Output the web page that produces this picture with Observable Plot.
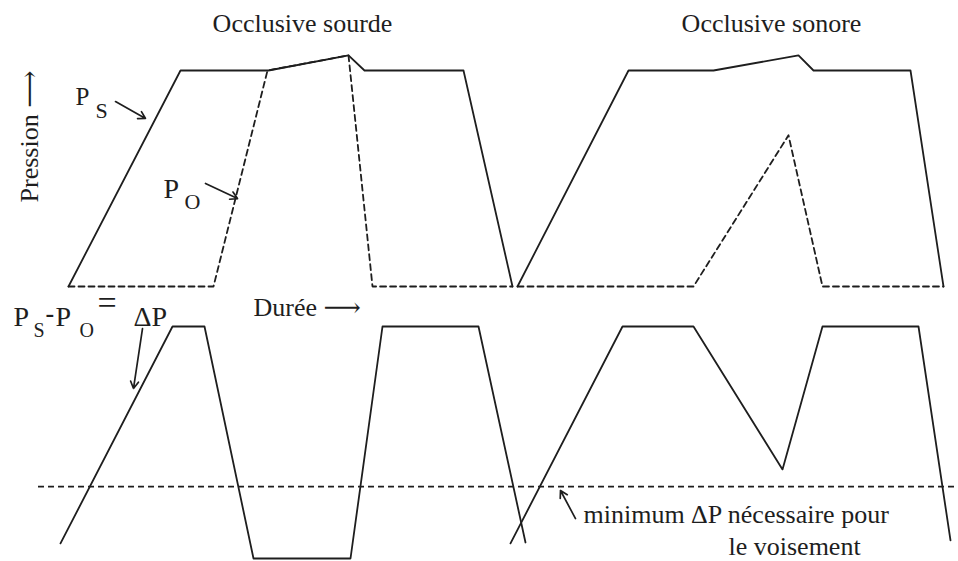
<!DOCTYPE html>
<html><head><meta charset="utf-8">
<script src="https://cdn.jsdelivr.net/npm/d3@7"></script>
<script src="https://cdn.jsdelivr.net/npm/@observablehq/plot@0.6"></script>
<style>
html,body{margin:0;padding:0;background:#fff;}
#chart svg{display:block;overflow:visible;}
</style></head><body><div id="chart"></div>
<script>
// ---- Data: time (durée units) and normalised pressure ----
// Top panel: subglottic pressure Ps (solid)
const psTime    = [68, 180, 268, 348, 364, 463, 512, 517, 628, 713, 798, 813, 910, 943];
const psValue   = [0, 1, 1, 1.07, 1, 1, 0, 0, 1, 1, 1.07, 1, 1, 0];
const psSegment = ["sourde","sourde","sourde","sourde","sourde","sourde","sourde","sonore","sonore","sonore","sonore","sonore","sonore","sonore"];
// Top panel: oral pressure Po (dashed)
const poTime    = [68, 213, 267, 348, 372, 512, 517, 693, 788, 822, 943];
const poValue   = [0, 0, 1, 1.07, 0, 0, 0, 0, 0.70, 0, 0];
const poSegment = ["sourde","sourde","sourde","sourde","sourde","sourde","sonore","sonore","sonore","sonore","sonore"];
// Bottom panel: ΔP = Ps - Po
const dpTime    = [60, 172, 204, 253, 350, 382, 478, 525, 510, 622, 693, 782, 822, 918, 950];
const dpValue   = [0.065, 1, 1, 0, 0, 1, 1, 0.069, 0.065, 1, 1, 0.384, 1, 1, 0.078];
const dpSegment = ["sourde","sourde","sourde","sourde","sourde","sourde","sourde","sourde","sonore","sonore","sonore","sonore","sonore","sonore","sonore"];
// Minimum ΔP needed for voicing
const voicingThreshold = [0.31];
const thresholdSpan = [38, 958];
// Texts
const titles = ["Occlusive sourde", "Occlusive sonore"];
const titleTime = [302, 771];
const yLabel = "Pression \u27F6";
const xLabel = "Dur\u00e9e \u27F6";
const noteLines = ["minimum \u0394P n\u00e9cessaire pour", "le voisement"];

const rows = (t, v, s) => t.map((x, i) => ({t: x, v: v[i], s: s[i]}));
const psRows = rows(psTime, psValue, psSegment);
const poRows = rows(poTime, poValue, poSegment);
const dpRows = rows(dpTime, dpValue, dpSegment);

const ink = "#1e1e1e";
const serif = "Liberation Serif, Times New Roman, DejaVu Serif, serif";
const W = 958;

const lbl = (text, x, y, o = {}) => Plot.text([text], {x: () => x, y: () => y, text: d => d,
  textAnchor: "start", lineAnchor: "bottom", fill: ink, fontFamily: serif, fontSize: 26, ...o});

const topPlot = Plot.plot({
  width: W, height: 292, marginTop: 70, marginBottom: 6, marginLeft: 0, marginRight: 0,
  x: {domain: [0, W], axis: null}, y: {domain: [0, 1], axis: null},
  marks: [
    Plot.line(psRows, {x: "t", y: "v", z: "s", stroke: ink, strokeWidth: 1.8}),
    Plot.line(poRows, {x: "t", y: "v", z: "s", stroke: ink, strokeWidth: 1.8, strokeDasharray: "6,4"}),
    Plot.text(titles, {x: (d, i) => titleTime[i], y: () => 1.176, text: d => d, textAnchor: "middle", lineAnchor: "bottom", fill: ink, fontFamily: serif, fontSize: 26}),
    Plot.text([yLabel], {x: () => 37, y: () => 0.389, text: d => d, rotate: -90, textAnchor: "start", lineAnchor: "bottom", fill: ink, fontFamily: serif, fontSize: 26}),
    lbl("P", 75, 0.838, {fontSize: 25}),
    lbl("S", 95, 0.782, {fontSize: 22}),
    lbl("P", 163, 0.412, {fontSize: 28}),
    lbl("O", 184, 0.361, {fontSize: 22}),
    Plot.arrow([{a: 115, b: 0.856, c: 145, d: 0.778}, {a: 205, b: 0.477, c: 237, d: 0.407}],
      {x1: "a", y1: "b", x2: "c", y2: "d", stroke: ink, strokeWidth: 1.7, headLength: 7})
  ]
});

const botPlot = Plot.plot({
  width: W, height: 269, marginTop: 34, marginBottom: 3, marginLeft: 0, marginRight: 0,
  x: {domain: [0, W], axis: null}, y: {domain: [0, 1], axis: null},
  marks: [
    Plot.line(dpRows, {x: "t", y: "v", z: "s", stroke: ink, strokeWidth: 1.8}),
    Plot.ruleY(voicingThreshold, {x1: thresholdSpan[0], x2: thresholdSpan[1], stroke: ink, strokeWidth: 1.8, strokeDasharray: "6,4"}),
    lbl("P", 13, 1.004, {fontSize: 28}),
    lbl("S", 33, 0.953, {fontSize: 20}),
    lbl("-", 45, 1.02, {fontSize: 26, fontWeight: "bold"}),
    lbl("P", 55, 1.004, {fontSize: 28}),
    lbl("O", 79, 0.953, {fontSize: 20}),
    lbl("=", 97, 1.056, {fontSize: 34}),
    lbl("\u0394P", 133, 1.004, {fontSize: 28}),
    lbl(xLabel, 253, 1.047, {fontSize: 26}),
    Plot.text(noteLines, {x: (d, i) => [583, 728][i], y: (d, i) => [0.155, 0.017][i], text: d => d, textAnchor: "start", lineAnchor: "bottom", fill: ink, fontFamily: serif, fontSize: 26}),
    Plot.arrow([{a: 142, b: 0.991, c: 133, d: 0.733}, {a: 575, b: 0.172, c: 560, d: 0.293}],
      {x1: "a", y1: "b", x2: "c", y2: "d", stroke: ink, strokeWidth: 1.7, headLength: 7})
  ]
});

const root = document.getElementById("chart");
root.appendChild(topPlot);
root.appendChild(botPlot);
</script></body></html>
